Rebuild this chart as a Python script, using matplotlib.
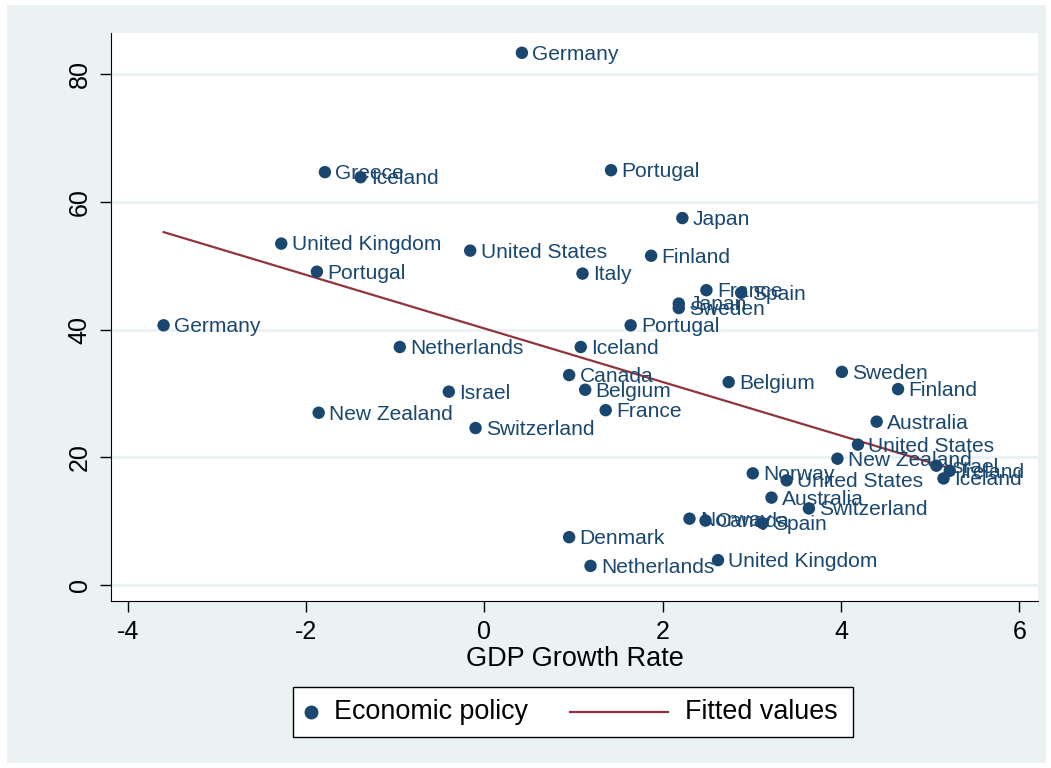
import numpy as np
import matplotlib.pyplot as plt
from matplotlib.patches import Rectangle
from matplotlib.lines import Line2D

plt.rcParams['font.family'] = ['Liberation Sans', 'DejaVu Sans']

# data
countries = ["Germany", "Greece", "Iceland", "Portugal", "Japan", "United Kingdom",
             "United States", "Finland", "Portugal", "Italy", "France", "Spain",
             "Japan", "Sweden", "Germany", "Portugal", "Netherlands", "Iceland",
             "Canada", "Belgium", "Belgium", "Sweden", "Finland", "Israel",
             "New Zealand", "France", "Switzerland", "Australia", "United States",
             "New Zealand", "Israel", "Ireland", "Iceland", "Norway", "United States",
             "Australia", "Switzerland", "Norway", "Canada", "Spain", "Denmark",
             "Netherlands", "United Kingdom"]
gdp_growth = [0.42, -1.79, -1.39, 1.42, 2.22, -2.28,
              -0.16, 1.87, -1.88, 1.10, 2.49, 2.88,
              2.18, 2.18, -3.60, 1.64, -0.95, 1.08,
              0.95, 1.13, 2.74, 4.01, 4.64, -0.40,
              -1.86, 1.36, -0.10, 4.40, 4.19,
              3.96, 5.07, 5.22, 5.15, 3.01, 3.39,
              3.22, 3.64, 2.30, 2.48, 3.12, 0.95,
              1.19, 2.62]
econ_policy = [83.4, 64.7, 63.9, 65.0, 57.5, 53.5,
               52.4, 51.6, 49.1, 48.8, 46.2, 45.8,
               44.1, 43.4, 40.7, 40.7, 37.3, 37.3,
               32.9, 30.6, 31.8, 33.4, 30.7, 30.3,
               27.0, 27.4, 24.6, 25.6, 22.0,
               19.8, 18.7, 17.9, 16.7, 17.5, 16.4,
               13.7, 12.0, 10.4, 10.1, 9.7, 7.5,
               3.0, 3.9]

x_ticks = [-4, -2, 0, 2, 4, 6]
y_ticks = [0, 20, 40, 60, 80]
legend_labels = ["Economic policy", "Fitted values"]

navy = "#1A476F"
maroon = "#90353B"
bg = "#EAF2F3"

fig = plt.figure(figsize=(10.51, 7.68), dpi=100, facecolor="white")
W, H = 1051, 768
fx = lambda px: px / W
fy = lambda py: 1 - py / H
fig.patches.append(Rectangle((fx(7), fy(763)), (1046 - 7) / W, (763 - 5) / H,
                             transform=fig.transFigure, facecolor=bg,
                             edgecolor="none", zorder=-10))

ax = fig.add_axes([fx(111), fy(601), (1038 - 111) / W, (601 - 33) / H])
ax.set_facecolor("white")
ax.set_xlim(-4.19, 6.21)
ax.set_ylim(-2.5, 86.5)

for yv in y_ticks:
    ax.axhline(yv, color=bg, lw=2, zorder=1)

# linear fit, as in Stata's lfit
x = np.array(gdp_growth)
y = np.array(econ_policy)
b, a = np.polyfit(x, y, 1)
xs = np.array([x.min(), x.max()])
ax.plot(xs, a + b * xs, color=maroon, lw=1.6, zorder=3)

ax.scatter(x, y, s=80, color=navy, edgecolors="none", zorder=4)
for name, xi, yi in zip(countries, gdp_growth, econ_policy):
    ax.annotate(name, (xi, yi), xytext=(7.5, -1), textcoords="offset points",
                va="center", ha="left", fontsize=15.1, color=navy, zorder=5)

for side in ["top", "right"]:
    ax.spines[side].set_visible(False)

ax.set_xticks(x_ticks)
ax.set_xticklabels([str(t) for t in x_ticks])
ax.set_yticks(y_ticks)
ax.set_yticklabels([str(t) for t in y_ticks], rotation=90, va="center")
ax.tick_params(axis="both", length=8, width=1, labelsize=18, pad=6)
ax.set_xlabel("GDP Growth Rate", fontsize=19.5, labelpad=1)

# Stata-style legend box, keys laid out by hand
fig.patches.append(Rectangle((fx(293), fy(737)), (853 - 293) / W, (737 - 687) / H,
                             transform=fig.transFigure, facecolor="white",
                             edgecolor="black", lw=1, zorder=5))
fig.add_artist(Line2D([fx(311)], [fy(712)], marker="o", ls="none", color=navy,
                      markersize=9, transform=fig.transFigure, zorder=6))
fig.text(fx(334), fy(712), legend_labels[0], fontsize=19.4, va="center",
         ha="left", zorder=6)
fig.add_artist(Line2D([fx(570), fx(668)], [fy(712), fy(712)], color=maroon,
                      lw=1.6, transform=fig.transFigure, zorder=6))
fig.text(fx(685), fy(712), legend_labels[1], fontsize=19.4, va="center",
         ha="left", zorder=6)

fig.savefig("out.png", dpi=100, facecolor=fig.get_facecolor())
